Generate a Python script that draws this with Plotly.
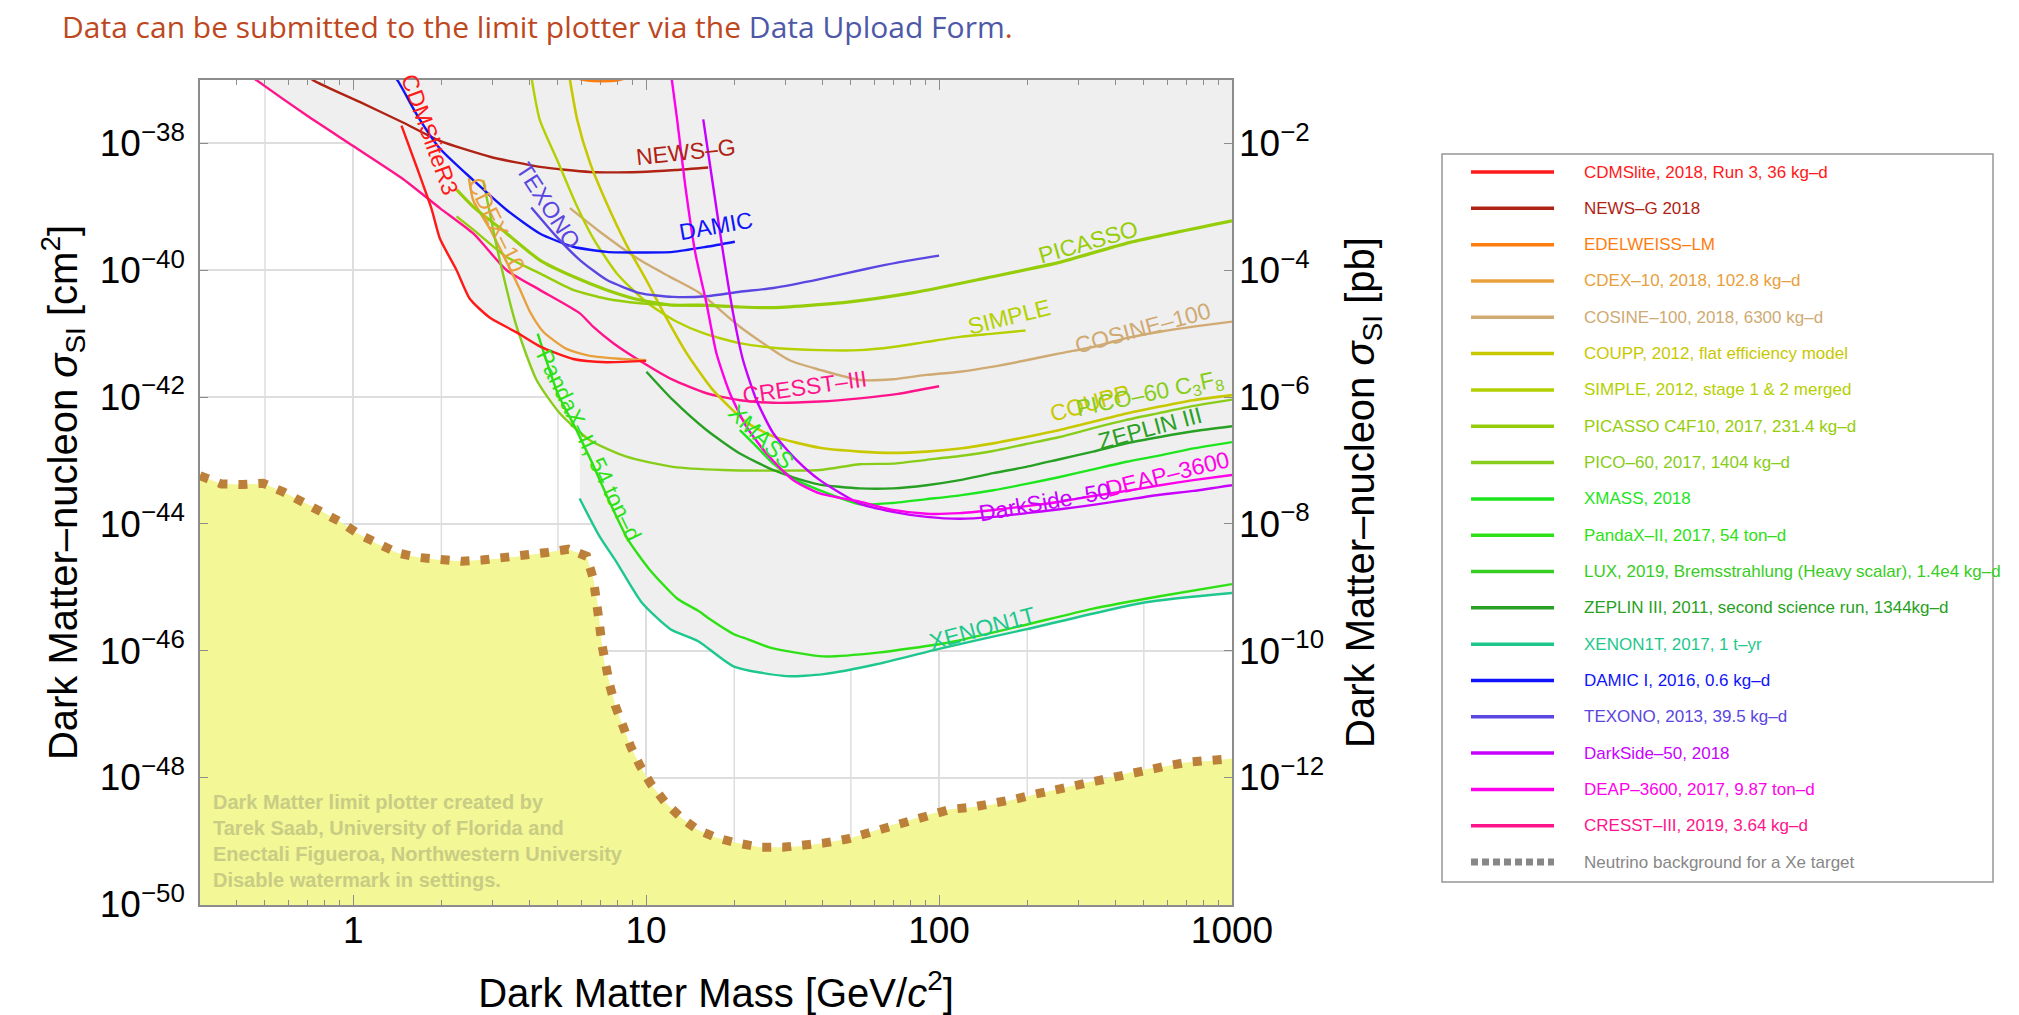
import numpy as np
import plotly.graph_objects as go

FONT = "Liberation Sans, Arial, Helvetica, sans-serif"

# ---------------------------------------------------------------------------
# Axis ranges (log10 units).  1 pb = 1e-36 cm^2 for the right-hand axis.
# ---------------------------------------------------------------------------
X_LO, X_HI = np.log10(0.3), 3.0
Y_LO, Y_HI = -50.01, -37.0
PB_SHIFT = 36

# ---------------------------------------------------------------------------
# Exclusion limits: log10(mass / GeV) and log10(sigma_SI / cm^2)
# ---------------------------------------------------------------------------
cdmslite_logm = [0.165, 0.219, 0.268, 0.296, 0.353, 0.398, 0.467, 0.558, 0.637, 0.751, 0.865, 1.0]
cdmslite_logs = [-37.72, -38.4, -39.04, -39.5, -40.0, -40.45, -40.75, -40.98, -41.2, -41.4, -41.45, -41.43]

newsg_logm = [-0.18, -0.134, 0.024, 0.17, 0.296, 0.467, 0.637, 0.808, 0.979, 1.1, 1.212]
newsg_logs = [-36.85, -37.01, -37.35, -37.67, -37.96, -38.21, -38.37, -38.45, -38.45, -38.42, -38.38]

edelweiss_logm = [0.76, 0.8, 0.85, 0.9, 0.93]
edelweiss_logs = [-36.97, -37.01, -37.02, -37.01, -36.97]

cdex_logm = [0.395, 0.41, 0.467, 0.524, 0.569, 0.603, 0.649, 0.728, 0.808, 0.922, 1.0]
cdex_logs = [-38.55, -38.9, -39.35, -39.87, -40.3, -40.65, -40.97, -41.24, -41.35, -41.4, -41.42]

cosine_logm = [0.74, 0.85, 0.979, 1.08, 1.183, 1.32, 1.49, 1.593, 1.729, 1.843, 1.957, 2.071,
               2.185, 2.298, 2.412, 2.526, 2.64, 2.754, 2.868, 3.0]
cosine_logs = [-39.02, -39.42, -39.84, -40.1, -40.36, -40.89, -41.42, -41.57, -41.73, -41.72, -41.65, -41.6,
               -41.52, -41.42, -41.31, -41.21, -41.07, -40.97, -40.89, -40.81]

coupp_logm = [0.74, 0.765, 0.808, 0.865, 0.933, 1.0, 1.057, 1.137, 1.23, 1.343, 1.434, 1.593, 1.729,
              1.843, 1.957, 2.071, 2.185, 2.298, 2.412, 2.526, 2.64, 2.754, 2.868, 3.0]
coupp_logs = [-37.0, -37.63, -38.3, -38.94, -39.6, -40.15, -40.65, -41.3, -41.9, -42.4, -42.62, -42.8, -42.86,
              -42.88, -42.86, -42.81, -42.73, -42.63, -42.52, -42.39, -42.26, -42.15, -42.05, -41.97]

simple_logm = [0.61, 0.637, 0.7, 0.76, 0.82, 0.9, 1.0, 1.1, 1.2, 1.32, 1.45, 1.593, 1.729, 1.843,
               1.957, 2.071, 2.185, 2.295]
simple_logs = [-37.0, -37.63, -38.3, -38.95, -39.5, -40.05, -40.5, -40.8, -41.0, -41.15, -41.23, -41.26,
               -41.26, -41.21, -41.13, -41.05, -41.0, -40.95]

picasso_logm = [0.353, 0.41, 0.524, 0.637, 0.751, 0.865, 0.979, 1.092, 1.185, 1.32, 1.429, 1.674,
                1.918, 2.163, 2.407, 2.652, 3.0]
picasso_logs = [-38.73, -39.0, -39.42, -39.84, -40.1, -40.31, -40.47, -40.55, -40.55, -40.58, -40.59,
                -40.51, -40.35, -40.12, -39.88, -39.56, -39.22]
picasso_b_logm = [0.353, 0.41, 0.524, 0.637, 0.751, 0.865, 0.979, 1.092, 1.2]
picasso_b_logs = [-39.15, -39.36, -39.79, -40.05, -40.31, -40.45, -40.52, -40.55, -40.56]

pico_logm = [0.444, 0.495, 0.558, 0.626, 0.706, 0.808, 0.933, 1.092, 1.263, 1.434, 1.593, 1.729, 1.843,
             1.957, 2.071, 2.185, 2.298, 2.412, 2.526, 2.64, 2.754, 2.868, 3.0]
pico_logs = [-38.58, -39.73, -40.89, -41.73, -42.26, -42.68, -42.94, -43.1, -43.15, -43.16, -43.15, -43.06,
             -43.05, -42.99, -42.93, -42.85, -42.74, -42.63, -42.49, -42.36, -42.25, -42.14, -42.04]

xmass_logm = [1.32, 1.377, 1.434, 1.513, 1.593, 1.729, 1.843, 1.957, 2.071, 2.185, 2.298, 2.412, 2.526,
              2.64, 2.754, 2.868, 3.0]
xmass_logs = [-42.52, -42.78, -43.05, -43.31, -43.47, -43.69, -43.67, -43.61, -43.55, -43.47, -43.37,
              -43.26, -43.14, -43.02, -42.92, -42.81, -42.71]

pandax_logm = [0.63, 0.699, 0.76, 0.815, 0.876, 0.937, 1.01, 1.107, 1.178, 1.217, 1.30, 1.348, 1.423,
               1.606, 1.79, 2.034, 2.279, 2.523, 2.768, 3.0]
pandax_logs = [-41.0, -41.95, -42.5, -43.03, -43.66, -44.24, -44.71, -45.18, -45.37, -45.5, -45.74,
               -45.82, -45.95, -46.09, -46.03, -45.87, -45.61, -45.34, -45.13, -44.95]

zeplin_logm = [1.001, 1.092, 1.206, 1.32, 1.434, 1.548, 1.593, 1.729, 1.843, 1.957, 2.071, 2.185, 2.298,
               2.412, 2.526, 2.64, 2.754, 2.868, 3.0]
zeplin_logs = [-41.6, -42.05, -42.52, -42.89, -43.15, -43.33, -43.38, -43.44, -43.44, -43.39, -43.31,
               -43.2, -43.1, -42.98, -42.86, -42.73, -42.63, -42.54, -42.46]

xenon_logm = [0.773, 0.839, 0.9, 0.985, 1.083, 1.178, 1.30, 1.478, 1.606, 1.79, 2.0, 2.3, 2.7, 3.0]
xenon_logs = [-43.6, -44.18, -44.61, -45.24, -45.66, -45.85, -46.25, -46.4, -46.37, -46.21, -45.97,
              -45.66, -45.24, -45.09]

damic_logm = [0.14, 0.152, 0.219, 0.296, 0.41, 0.524, 0.637, 0.751, 0.865, 0.979, 1.092, 1.206, 1.303]
damic_logs = [-36.95, -37.01, -37.56, -38.08, -38.58, -39.05, -39.42, -39.63, -39.71, -39.72, -39.71,
              -39.63, -39.55]

texono_logm = [0.608, 0.694, 0.774, 0.865, 0.979, 1.092, 1.206, 1.32, 1.434, 1.593, 1.75, 1.857, 2.0]
texono_logs = [-39.01, -39.47, -39.84, -40.15, -40.36, -40.42, -40.41, -40.34, -40.28, -40.14, -39.98,
               -39.88, -39.77]

darkside_logm = [1.195, 1.229, 1.263, 1.297, 1.331, 1.377, 1.434, 1.513, 1.593, 1.729, 1.843, 1.957,
                 2.071, 2.185, 2.298, 2.412, 2.526, 2.64, 2.754, 2.868, 3.0]
darkside_logs = [-37.62, -38.68, -39.73, -40.68, -41.42, -42.05, -42.57, -42.99, -43.31, -43.68, -43.81,
                 -43.89, -43.92, -43.89, -43.83, -43.77, -43.7, -43.62, -43.54, -43.48, -43.39]

deap_logm = [1.085, 1.106, 1.134, 1.168, 1.206, 1.24, 1.286, 1.343, 1.411, 1.502, 1.593, 1.729, 1.843,
             1.957, 2.071, 2.185, 2.298, 2.412, 2.526, 2.64, 2.754, 2.868, 3.0]
deap_logs = [-36.9, -37.63, -38.68, -39.73, -40.52, -41.31, -41.94, -42.47, -42.89, -43.31, -43.52,
             -43.65, -43.78, -43.84, -43.83, -43.78, -43.72, -43.65, -43.56, -43.48, -43.39, -43.31, -43.23]

cresst_logm = [-0.36, -0.328, -0.158, 0.0, 0.17, 0.296, 0.41, 0.524, 0.637, 0.774, 0.819, 0.888, 1.001,
               1.092, 1.206, 1.32, 1.434, 1.593, 1.729, 1.86, 2.0]
cresst_logs = [-36.9, -37.01, -37.56, -38.04, -38.56, -39.02, -39.42, -40.0, -40.31, -40.68, -40.89,
               -41.15, -41.49, -41.73, -41.94, -42.05, -42.09, -42.07, -42.02, -41.95, -41.83]

# Neutrino background (Xe target)
nu_logm = [-0.523, -0.45, -0.377, -0.307, -0.237, -0.17, -0.107, -0.043, 0.018, 0.085, 0.152, 0.225,
           0.298, 0.371, 0.44, 0.517, 0.59, 0.662, 0.735, 0.797, 0.82, 0.833, 0.84, 0.849, 0.858, 0.876,
           0.895, 0.92, 0.949, 0.98, 1.016, 1.065, 1.119, 1.174, 1.24, 1.307, 1.39, 1.466, 1.54, 1.61,
           1.686, 1.76, 1.83, 1.906, 1.967, 2.04, 2.11, 2.187, 2.26, 2.33, 2.407, 2.48, 2.553, 2.627,
           2.7, 2.774, 2.847, 2.92, 3.0]
nu_logs = [-43.24, -43.37, -43.38, -43.36, -43.5, -43.66, -43.8, -43.97, -44.16, -44.32, -44.46, -44.53,
           -44.57, -44.59, -44.57, -44.54, -44.5, -44.45, -44.4, -44.51, -44.87, -45.21, -45.55, -45.9,
           -46.2, -46.55, -46.87, -47.18, -47.53, -47.82, -48.1, -48.39, -48.63, -48.82, -48.95, -49.03,
           -49.1, -49.1, -49.08, -49.03, -48.97, -48.87, -48.76, -48.66, -48.58, -48.5, -48.47, -48.42,
           -48.34, -48.26, -48.18, -48.1, -48.03, -47.95, -47.87, -47.82, -47.76, -47.74, -47.7]

# ---------------------------------------------------------------------------
# Colours
# ---------------------------------------------------------------------------
C_CDMS = "rgb(255,25,25)"
C_NEWS = "rgb(175,35,20)"
C_EDEL = "rgb(255,125,15)"
C_CDEX = "rgb(232,160,60)"
C_COSINE = "rgb(208,170,115)"
C_COUPP = "rgb(200,200,0)"
C_SIMPLE = "rgb(180,208,0)"
C_PICASSO = "rgb(150,205,10)"
C_PICO = "rgb(135,205,25)"
C_XMASS = "rgb(30,230,30)"
C_PANDAX = "rgb(45,225,20)"
C_LUX = "rgb(55,205,35)"
C_ZEPLIN = "rgb(40,160,35)"
C_XENON = "rgb(30,200,140)"
C_DAMIC = "rgb(15,20,250)"
C_TEXONO = "rgb(90,70,225)"
C_DS = "rgb(200,0,255)"
C_DEAP = "rgb(255,0,235)"
C_CRESST = "rgb(255,20,140)"
C_NU = "rgb(188,128,58)"
C_NU_LEGEND = "rgb(135,135,135)"

# (log mass, log sigma, colour, width) for every drawn limit curve
CURVES = [
    (cresst_logm, cresst_logs, C_CRESST, 2.4),
    (newsg_logm, newsg_logs, C_NEWS, 2.4),
    (edelweiss_logm, edelweiss_logs, C_EDEL, 2.4),
    (cdex_logm, cdex_logs, C_CDEX, 2.4),
    (cosine_logm, cosine_logs, C_COSINE, 2.4),
    (coupp_logm, coupp_logs, C_COUPP, 2.6),
    (simple_logm, simple_logs, C_SIMPLE, 2.4),
    (picasso_logm, picasso_logs, C_PICASSO, 3.2),
    (picasso_b_logm, picasso_b_logs, C_PICASSO, 2.4),
    (pico_logm, pico_logs, C_PICO, 2.4),
    (xmass_logm, xmass_logs, C_XMASS, 2.4),
    (pandax_logm, pandax_logs, C_PANDAX, 2.4),
    (zeplin_logm, zeplin_logs, C_ZEPLIN, 2.4),
    (xenon_logm, xenon_logs, C_XENON, 2.4),
    (damic_logm, damic_logs, C_DAMIC, 2.4),
    (texono_logm, texono_logs, C_TEXONO, 2.4),
    (darkside_logm, darkside_logs, C_DS, 2.4),
    (deap_logm, deap_logs, C_DEAP, 2.4),
    (cdmslite_logm, cdmslite_logs, C_CDMS, 2.4),
]

LEGEND = [
    ("CDMSlite, 2018, Run 3, 36 kg–d", C_CDMS),
    ("NEWS–G 2018", C_NEWS),
    ("EDELWEISS–LM", C_EDEL),
    ("CDEX–10, 2018, 102.8 kg–d", C_CDEX),
    ("COSINE–100, 2018, 6300 kg–d", C_COSINE),
    ("COUPP, 2012, flat efficiency model", C_COUPP),
    ("SIMPLE, 2012, stage 1 &amp; 2 merged", C_SIMPLE),
    ("PICASSO C4F10, 2017, 231.4 kg–d", C_PICASSO),
    ("PICO–60, 2017, 1404 kg–d", C_PICO),
    ("XMASS, 2018", C_XMASS),
    ("PandaX–II, 2017, 54 ton–d", C_PANDAX),
    ("LUX, 2019, Bremsstrahlung (Heavy scalar), 1.4e4 kg–d", C_LUX),
    ("ZEPLIN III, 2011, second science run, 1344kg–d", C_ZEPLIN),
    ("XENON1T, 2017, 1 t–yr", C_XENON),
    ("DAMIC I, 2016, 0.6 kg–d", C_DAMIC),
    ("TEXONO, 2013, 39.5 kg–d", C_TEXONO),
    ("DarkSide–50, 2018", C_DS),
    ("DEAP–3600, 2017, 9.87 ton–d", C_DEAP),
    ("CRESST–III, 2019, 3.64 kg–d", C_CRESST),
    ("Neutrino background for a Xe target", C_NU_LEGEND),
]

# In-plot curve labels: text, colour, log mass, log sigma, angle
LABELS = [
    ("CDMSliteR3", C_CDMS, 0.262, -37.87, 70),
    ("NEWS–G", C_NEWS, 1.135, -38.14, -6),
    ("TEXONO", C_TEXONO, 0.668, -38.98, 57),
    ("CDEX–10", C_CDEX, 0.489, -39.29, 64),
    ("DAMIC", C_DAMIC, 1.237, -39.31, -10),
    ("PICASSO", C_PICASSO, 2.508, -39.55, -16),
    ("SIMPLE", C_SIMPLE, 2.238, -40.74, -14),
    ("COSINE–100", C_COSINE, 2.696, -40.91, -15),
    ("CRESST–III", C_CRESST, 1.539, -41.84, -8),
    ("COUPP", C_COUPP, 2.515, -42.09, -16),
    ("PICO–60 C<sub>3</sub>F<sub>8</sub>", C_PICO, 2.719, -41.96, -12),
    ("ZEPLIN III", C_ZEPLIN, 2.72, -42.49, -15),
    ("XMASS", C_XMASS, 1.394, -42.63, 44),
    ("PandaX–II, 54 ton–d", C_PANDAX, 0.804, -42.76, 64),
    ("DEAP–3600", C_DEAP, 2.781, -43.21, -14),
    ("DarkSide–50", C_DS, 2.36, -43.65, -10),
    ("XENON1T", C_XENON, 2.149, -45.64, -15),
]

# Axis ticks and grid
x_major = [1, 10, 100, 1000]
x_major_text = ["1", "10", "100", "1000"]
x_minor = [0.3, 0.4, 0.5, 0.6, 0.7, 0.8, 0.9, 2, 3, 4, 5, 6, 7, 8, 9, 20, 30, 40, 50, 60, 70, 80, 90,
           200, 300, 400, 500, 600, 700, 800, 900]
x_extra_grid = [0.5, 2, 5, 20, 50, 200, 500]
y_ticks_cm = [1e-38, 1e-40, 1e-42, 1e-44, 1e-46, 1e-48, 1e-50]
y_text_cm = ["10<sup>−38</sup>", "10<sup>−40</sup>", "10<sup>−42</sup>", "10<sup>−44</sup>",
             "10<sup>−46</sup>", "10<sup>−48</sup>", "10<sup>−50</sup>"]
y_ticks_pb = [1e-2, 1e-4, 1e-6, 1e-8, 1e-10, 1e-12]
y_text_pb = ["10<sup>−2</sup>", "10<sup>−4</sup>", "10<sup>−6</sup>", "10<sup>−8</sup>",
             "10<sup>−10</sup>", "10<sup>−12</sup>"]

# ---------------------------------------------------------------------------
# Layout geometry in pixels
# ---------------------------------------------------------------------------
W, H = 2019, 1015
ML, MR, MT, MB = 200, 787, 80, 110
PW, PH = W - ML - MR, H - MT - MB


def px_to_paper(x, y):
    return (x - ML) / PW, (H - MB - y) / PH


fig = go.Figure()

# Excluded region: everything above the lowest limit at each mass
grid = np.linspace(X_LO, X_HI, 3000)
env = np.full_like(grid, Y_HI + 0.2)
for lm, ls, _, _ in CURVES:
    lm = np.asarray(lm)
    ls = np.asarray(ls)
    inside = (grid >= lm[0]) & (grid <= lm[-1])
    vals = np.interp(grid, lm, ls)
    env = np.where(inside, np.minimum(env, vals), env)
env = np.minimum(env, Y_HI + 0.2)
fig.add_trace(go.Scatter(
    x=10 ** np.concatenate([grid, grid[::-1]]),
    y=10 ** np.concatenate([env, np.full_like(grid, Y_HI + 0.2)]),
    mode="lines", fill="toself", fillcolor="rgb(239,239,239)",
    line=dict(width=0), hoverinfo="skip", showlegend=False))

# Neutrino floor shading
nu_m = np.asarray(nu_logm)
nu_s = np.asarray(nu_logs)
fig.add_trace(go.Scatter(
    x=10 ** np.concatenate([nu_m, [nu_m[-1], nu_m[0]]]),
    y=10 ** np.concatenate([nu_s, [Y_LO - 0.5, Y_LO - 0.5]]),
    mode="lines", fill="toself", fillcolor="rgb(243,247,150)",
    line=dict(width=0), hoverinfo="skip", showlegend=False))

# Limit curves
for lm, ls, col, wd in CURVES:
    fig.add_trace(go.Scatter(
        x=10 ** np.asarray(lm), y=10 ** np.asarray(ls), mode="lines",
        line=dict(color=col, width=wd, shape="spline", smoothing=0.6),
        hoverinfo="skip", showlegend=False))

# Neutrino floor boundary
fig.add_trace(go.Scatter(
    x=10 ** nu_m, y=10 ** nu_s, mode="lines",
    line=dict(color=C_NU, width=9, dash="9px,11px"),
    hoverinfo="skip", showlegend=False))

# Right-hand axis in picobarn
fig.add_trace(go.Scatter(x=[], y=[], yaxis="y2", showlegend=False, hoverinfo="skip"))

annotations = []
for txt, col, lx, ly, ang in LABELS:
    annotations.append(dict(
        x=lx, y=ly, xref="x", yref="y", text=txt, showarrow=False, textangle=ang,
        font=dict(family=FONT, size=23, color=col), xanchor="center", yanchor="middle"))

# Watermark on the neutrino floor
wx, wy = px_to_paper(211, 789)
annotations.append(dict(
    x=wx, y=wy, xref="paper", yref="paper", xanchor="left", yanchor="top", align="left",
    showarrow=False,
    text=("<b>Dark Matter limit plotter created by<br>"
          "Tarek Saab, University of Florida and<br>"
          "Enectali Figueroa, Northwestern University<br>"
          "Disable watermark in settings.</b>"),
    font=dict(family=FONT, size=20, color="rgb(200,204,132)")))

# Header line
hx, hy = px_to_paper(60, 26)
annotations.append(dict(
    x=hx, y=hy, xref="paper", yref="paper", xanchor="left", yanchor="middle", showarrow=False,
    text=('<span style="color:rgb(190,72,30)">Data can be submitted to the limit plotter via the </span>'
          '<span style="color:rgb(78,88,168)">Data Upload Form</span>'
          '<span style="color:rgb(190,72,30)">.</span>'),
    font=dict(family="Open Sans, sans-serif", size=30, weight=500)))

FRAME = "rgb(140,140,140)"
GRID = "rgb(222,222,222)"

shapes = []
# Extra vertical grid lines at 2x and 5x each decade
for g in x_extra_grid:
    shapes.append(dict(type="line", xref="x", yref="paper", x0=g, x1=g, y0=0, y1=1,
                       line=dict(color=GRID, width=1.5), layer="below"))

# Legend box with line samples
bx0, by0 = px_to_paper(1442, 882)
bx1, by1 = px_to_paper(1993, 154)
shapes.append(dict(type="rect", xref="paper", yref="paper", x0=bx0, x1=bx1, y0=by0, y1=by1,
                   line=dict(color="rgb(150,150,150)", width=1.5), fillcolor="white", layer="below"))
ROW0, ROW_STEP = 172.0, 36.32
for i, (name, col) in enumerate(LEGEND):
    yrow = ROW0 + i * ROW_STEP
    lx0, ly = px_to_paper(1471, yrow)
    lx1, _ = px_to_paper(1554, yrow)
    tx, _ = px_to_paper(1582, yrow)
    if i == len(LEGEND) - 1:
        seg = dict(color=col, width=7, dash="7px,4px")
    else:
        seg = dict(color=col, width=3.5)
    shapes.append(dict(type="line", xref="paper", yref="paper", x0=lx0, x1=lx1, y0=ly, y1=ly, line=seg))
    annotations.append(dict(x=tx, y=ly, xref="paper", yref="paper", xanchor="left", yanchor="middle",
                            showarrow=False, text=name, font=dict(family=FONT, size=17, color=col)))

fig.update_layout(
    template="none",
    width=W, height=H,
    margin=dict(l=ML, r=MR, t=MT, b=MB, autoexpand=False),
    paper_bgcolor="white", plot_bgcolor="white",
    font=dict(family=FONT, color="black"),
    showlegend=False,
    xaxis=dict(
        type="log", range=[X_LO, X_HI], automargin=False,
        tickmode="array", tickvals=x_major, ticktext=x_major_text,
        ticks="inside", ticklen=10, tickwidth=1.3, tickcolor=FRAME,
        minor=dict(tickmode="array", tickvals=x_minor, ticks="inside", ticklen=5, tickwidth=1.2,
                   tickcolor=FRAME, showgrid=False),
        showgrid=True, gridcolor=GRID, gridwidth=1.5, zeroline=False,
        showline=True, linecolor=FRAME, linewidth=1.5, mirror="ticks",
        tickfont=dict(family=FONT, size=37, color="black"), ticklabelstandoff=-8,
        title=dict(text="Dark Matter Mass [GeV/<i>c</i><sup>2</sup>]",
                   font=dict(family=FONT, size=40, color="black"), standoff=35),
    ),
    yaxis=dict(
        type="log", range=[Y_LO, Y_HI], automargin=False,
        tickmode="array", tickvals=y_ticks_cm, ticktext=y_text_cm,
        ticks="inside", ticklen=8, tickwidth=1.3, tickcolor=FRAME,
        showgrid=True, gridcolor=GRID, gridwidth=1.5, zeroline=False,
        showline=True, linecolor=FRAME, linewidth=1.5, mirror=True,
        tickfont=dict(family=FONT, size=37, color="black"), ticklabelstandoff=6,
        title=dict(text="Dark Matter–nucleon <i>σ</i><sub>SI</sub> [cm<sup>2</sup>]",
                   font=dict(family=FONT, size=40, color="black"), standoff=10),
    ),
    yaxis2=dict(
        type="log", range=[Y_LO + PB_SHIFT, Y_HI + PB_SHIFT], overlaying="y", side="right",
        automargin=False,
        tickmode="array", tickvals=y_ticks_pb, ticktext=y_text_pb,
        ticks="inside", ticklen=8, tickwidth=1.3, tickcolor=FRAME,
        showgrid=False, zeroline=False, showline=False,
        tickfont=dict(family=FONT, size=37, color="black"), ticklabelstandoff=6,
        title=dict(text="Dark Matter–nucleon <i>σ</i><sub>SI</sub> [pb]",
                   font=dict(family=FONT, size=40, color="black"), standoff=22),
    ),
    shapes=shapes,
    annotations=annotations,
)

fig.write_html("out.html")
